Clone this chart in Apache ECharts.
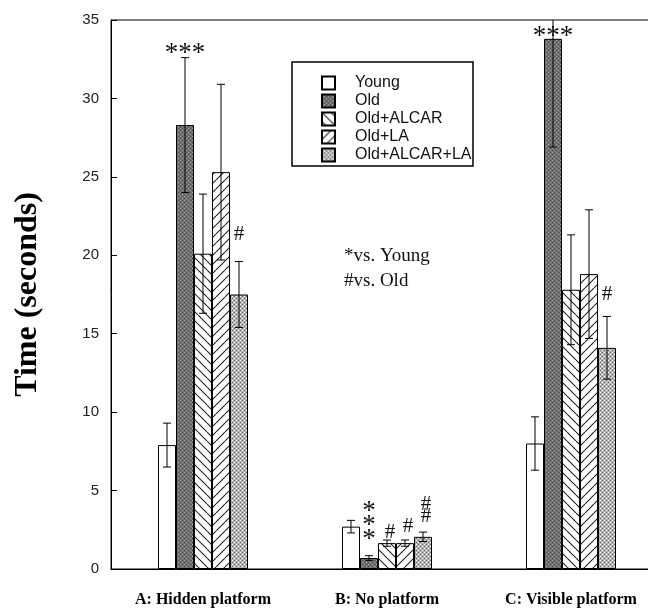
<!DOCTYPE html>
<html><head><meta charset="utf-8">
<script src="https://cdn.jsdelivr.net/npm/echarts@6/dist/echarts.min.js"></script>
<style>html,body{margin:0;padding:0;background:#fff}#c{width:648px;height:608px}</style>
</head><body><div id="c"></div>
<script>
// ---- data ----
const categories = ['A: Hidden platform', 'B: No platform', 'C: Visible platform'];
const seriesNames = ['Young', 'Old', 'Old+ALCAR', 'Old+LA', 'Old+ALCAR+LA'];
const young      = [7.9, 2.7, 8.0];
const youngErr   = [1.4, 0.4, 1.7];
const old        = [28.3, 0.7, 33.8];
const oldErr     = [4.3, 0.15, 6.9];
const alcar      = [20.1, 1.65, 17.8];
const alcarErr   = [3.8, 0.2, 3.5];
const la         = [25.3, 1.65, 18.8];
const laErr      = [5.6, 0.2, 4.1];
const both       = [17.5, 2.05, 14.1];
const bothErr    = [2.1, 0.3, 2.0];
const yTicks     = [0, 5, 10, 15, 20, 25, 30, 35];
// significance marks: category index, series index, y (value units), text
const annCat    = [0, 0, 1, 1, 1, 1, 2, 2];
const annSeries = [1, 4, 1, 2, 3, 4, 1, 4];
const annY      = [33.3, 21.3, 3.2, 2.35, 2.7, 3.75, 34.4, 17.5];
const annText   = ['***', '#', '*\n*\n*', '#', '#', '#\n#', '***', '#'];

const values = [young, old, alcar, la, both];
const errs = [youngErr, oldErr, alcarErr, laErr, bothErr];

// ---- patterns ----
function dots(base, light, dark) {
  const c = document.createElement('canvas'); c.width = 4; c.height = 4;
  const g = c.getContext('2d');
  g.fillStyle = base; g.fillRect(0, 0, 4, 4);
  g.fillStyle = light; g.fillRect(0, 0, 1, 1); g.fillRect(2, 2, 1, 1);
  g.fillStyle = dark; g.fillRect(2, 0, 1, 1); g.fillRect(0, 2, 1, 1);
  return { image: c, repeat: 'repeat' };
}
function hatch(back) {
  const s = 9;
  const c = document.createElement('canvas'); c.width = s; c.height = s;
  const g = c.getContext('2d');
  g.fillStyle = '#fff'; g.fillRect(0, 0, s, s);
  g.strokeStyle = '#222'; g.lineWidth = 1.1;
  g.beginPath();
  for (let k = -1; k <= 1; k++) {
    if (back) { g.moveTo(k * s, 0); g.lineTo(k * s + s, s); }
    else { g.moveTo(k * s, s); g.lineTo(k * s + s, 0); }
  }
  g.stroke();
  return { image: c, repeat: 'repeat' };
}
const fills = ['#ffffff', dots('#6f6f6f', '#a8a8a8', '#4a4a4a'), hatch(true), hatch(false), dots('#b4b4b4', '#f0f0f0', '#707070')];

const BW = 18;
const serif = '"Liberation Serif", "Times New Roman", serif';
const sans = '"Liberation Sans", Arial, sans-serif';

const barSeries = seriesNames.map((n, i) => ({
  name: n, type: 'bar', data: values[i], barWidth: BW, barGap: '0%',
  itemStyle: { color: fills[i], borderColor: '#000', borderWidth: 1 },
  z: 2
}));

const errData = [];
for (let s = 0; s < 5; s++) for (let c = 0; c < 3; c++) errData.push([c, values[s][c], errs[s][c], s]);

const errSeries = {
  type: 'custom', clip: true, z: 5, silent: true,
  data: errData,
  renderItem: function (params, api) {
    const c = api.value(0), v = api.value(1), e = api.value(2), s = api.value(3);
    const ctr = api.coord([c, v]);
    const x = ctr[0] + (s - 2) * BW;
    const yt = api.coord([c, v + e])[1];
    const yb = api.coord([c, v - e])[1];
    const st = { stroke: '#000', lineWidth: 1 };
    return { type: 'group', children: [
      { type: 'line', shape: { x1: x, y1: yt, x2: x, y2: yb }, style: st },
      { type: 'line', shape: { x1: x - 4, y1: yt, x2: x + 4, y2: yt }, style: st },
      { type: 'line', shape: { x1: x - 4, y1: yb, x2: x + 4, y2: yb }, style: st }
    ]};
  },
  encode: { x: 0, y: 1 }
};

const annSeriesObj = {
  type: 'custom', z: 6, silent: true, clip: false,
  data: annCat.map((c, i) => [c, annY[i], annSeries[i], i]),
  renderItem: function (params, api) {
    const c = api.value(0), y = api.value(1), s = api.value(2), i = api.value(3);
    const p = api.coord([c, y]);
    const x = p[0] + (s - 2) * BW + (c === 1 && s > 1 ? 3 : 0);
    const t = annText[i];
    const star = t.indexOf('*') >= 0;
    return { type: 'text', x: x, y: p[1] + (star ? 7 : 0), style: {
      text: t, fill: '#111', font: (star ? '27px ' : '21px ') + serif,
      align: 'center', verticalAlign: 'middle', lineHeight: star ? 14 : 12
    }};
  },
  encode: { x: 0, y: 1 }
};

const chart = echarts.init(document.getElementById('c'), null, { renderer: 'canvas' });
chart.setOption({
  animation: false,
  backgroundColor: '#fff',
  grid: { left: 111, top: 20, width: 552, height: 549, outerBoundsMode: 'none', containLabel: false,
    show: true, borderColor: '#000', borderWidth: 1, backgroundColor: 'transparent' },
  legend: {
    data: seriesNames, orient: 'vertical', left: 321, top: 75, padding: 0,
    itemWidth: 13, itemHeight: 13, itemGap: 2, icon: 'rect',
    textStyle: { fontFamily: sans, fontSize: 16, color: '#111', padding: [0, 0, 0, 15] },
    selectedMode: false
  },
  xAxis: {
    type: 'category', data: categories,
    axisLine: { lineStyle: { color: '#000', width: 1 } },
    axisTick: { show: false },
    axisLabel: { fontFamily: serif, fontWeight: 'bold', fontSize: 16, color: '#000', margin: 23 }
  },
  yAxis: {
    type: 'value', min: 0, max: 35, interval: 5,
    name: 'Time (seconds)', nameLocation: 'middle', nameGap: 67,
    nameTextStyle: { fontFamily: serif, fontWeight: 'bold', fontSize: 32, color: '#000' },
    axisLine: { show: true, lineStyle: { color: '#000', width: 1 } },
    axisTick: { show: true, inside: true, length: 6, lineStyle: { color: '#000' } },
    splitLine: { show: false },
    axisLabel: { fontFamily: sans, fontSize: 15, color: '#222', margin: 12,
      formatter: v => yTicks.indexOf(v) >= 0 ? String(v) : '' }
  },
  graphic: [
    { type: 'rect', shape: { x: 292, y: 62, width: 181, height: 104 }, style: { fill: 'none', stroke: '#000', lineWidth: 1.5 }, z: 10 },
    { type: 'text', x: 344, y: 256, style: { text: '*vs. Young', font: '19px ' + serif, fill: '#111', verticalAlign: 'middle' } },
    { type: 'text', x: 344, y: 281, style: { text: '#vs. Old', font: '19px ' + serif, fill: '#111', verticalAlign: 'middle' } }
  ],
  series: barSeries.concat([errSeries, annSeriesObj])
});
</script></body></html>
